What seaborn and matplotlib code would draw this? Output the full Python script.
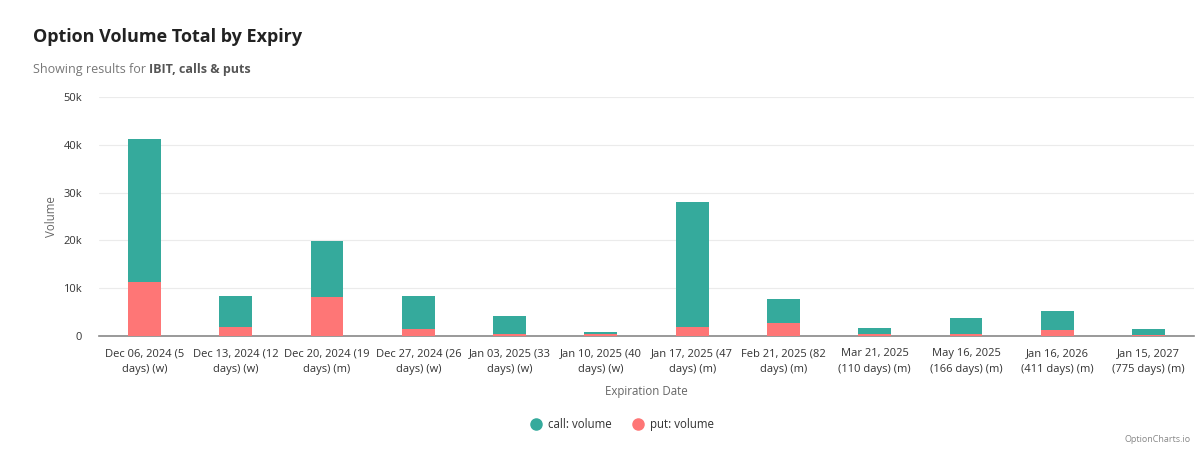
import matplotlib.pyplot as plt
import pandas as pd
import seaborn as sns
from matplotlib.lines import Line2D
from matplotlib.ticker import FuncFormatter

EXPIRIES = [
    "Dec 06, 2024 (5\ndays) (w)",
    "Dec 13, 2024 (12\ndays) (w)",
    "Dec 20, 2024 (19\ndays) (m)",
    "Dec 27, 2024 (26\ndays) (w)",
    "Jan 03, 2025 (33\ndays) (w)",
    "Jan 10, 2025 (40\ndays) (w)",
    "Jan 17, 2025 (47\ndays) (m)",
    "Feb 21, 2025 (82\ndays) (m)",
    "Mar 21, 2025\n(110 days) (m)",
    "May 16, 2025\n(166 days) (m)",
    "Jan 16, 2026\n(411 days) (m)",
    "Jan 15, 2027\n(775 days) (m)",
]
CALL_VOLUME = [29900, 6500, 11700, 6900, 3850, 400, 26200, 5050, 1350, 3500, 3950, 1100]
PUT_VOLUME = [11300, 1900, 8200, 1500, 400, 500, 1800, 2650, 400, 350, 1250, 300]

TEAL = "#35aa9c"
RED = "#fe7676"

df = pd.DataFrame({"expiry": EXPIRIES, "call": CALL_VOLUME, "put": PUT_VOLUME})
df["total"] = df["call"] + df["put"]

sns.set_theme(style="white")
plt.rcParams["font.family"] = ["Open Sans", "DejaVu Sans"]

fig = plt.figure(figsize=(12, 4.51), dpi=100)
ax = fig.add_axes([0.0824, 0.255, 0.9127, 0.53])

# stacked bars: total (call on top) then put over it
sns.barplot(data=df, x="expiry", y="total", color=TEAL, width=0.36, saturation=1,
            linewidth=0, ax=ax, zorder=3)
sns.barplot(data=df, x="expiry", y="put", color=RED, width=0.36, saturation=1,
            linewidth=0, ax=ax, zorder=4)

ax.set_ylim(0, 50000)
ax.set_xlim(-0.5, len(EXPIRIES) - 0.5)
ax.set_yticks([0, 10000, 20000, 30000, 40000, 50000])
ax.yaxis.set_major_formatter(FuncFormatter(lambda v, _: "0" if v == 0 else f"{int(v / 1000)}k"))
ax.grid(axis="y", color="#ebebeb", linewidth=0.8, zorder=0)
for side in ["top", "right", "left"]:
    ax.spines[side].set_visible(False)
ax.spines["bottom"].set_color("#888888")
ax.spines["bottom"].set_linewidth(1.2)
ax.tick_params(axis="both", length=0, labelsize=8, colors="#333333")
ax.tick_params(axis="y", pad=12)
ax.tick_params(axis="x", pad=9)
for lbl in ax.get_xticklabels():
    lbl.set_linespacing(1.55)

ax.set_xlabel("Expiration Date", fontsize=8.3, color="#666666", labelpad=7)
ax.set_ylabel("Volume", fontsize=8.3, color="#666666", labelpad=4)

# title + subtitle
fig.text(0.0275, 0.918, "Option Volume Total by Expiry", fontsize=13, fontweight="bold", color="#222222", va="center")
sub = fig.text(0.0275, 0.845, "Showing results for ", fontsize=9, color="#777777", va="center")
fig.canvas.draw()
bb = sub.get_window_extent()
x_bold = bb.x1 / fig.bbox.width
fig.text(x_bold, 0.845, "IBIT, calls & puts", fontsize=9, fontweight="bold", color="#555555", va="center")

handles = [
    Line2D([], [], marker="o", linestyle="", markersize=8, markerfacecolor=TEAL, markeredgecolor=TEAL, label="call: volume"),
    Line2D([], [], marker="o", linestyle="", markersize=8, markerfacecolor=RED, markeredgecolor=RED, label="put: volume"),
]
leg = fig.legend(handles=handles, loc="center", bbox_to_anchor=(0.516, 0.058), ncol=2, frameon=False,
                 fontsize=8.3, handletextpad=0.1, columnspacing=1.2)
for t in leg.get_texts():
    t.set_color("#333333")

fig.text(0.992, 0.015, "OptionCharts.io", fontsize=6.5, color="#888888", ha="right", va="bottom")

plt.savefig("out.png", dpi=100)
